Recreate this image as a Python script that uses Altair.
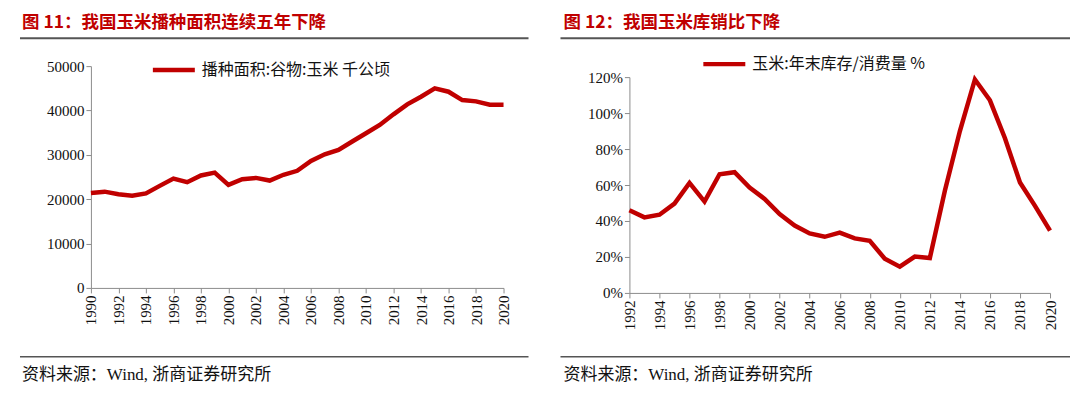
import altair as alt
import pandas as pd

# ---------------- data ----------------
years_left = list(range(1990, 2021))
area_k_ha = [21400, 21700, 21100, 20770, 21300, 23000, 24660, 23840, 25340, 26000,
             23240, 24500, 24800, 24200, 25500, 26400, 28640, 30130, 31110, 33000,
             34860, 36730, 39130, 41380, 43100, 44970, 44230, 42350, 42050, 41300, 41300]

years_right = list(range(1992, 2021))
stock_ratio_pct = [46.0, 42.0, 43.5, 49.7, 61.2, 50.8, 66.0, 67.1, 58.6, 52.3,
                   43.8, 37.5, 33.1, 31.2, 33.5, 30.3, 29.0, 19.0, 14.6, 20.2,
                   19.4, 56.8, 90.0, 118.7, 107.1, 86.0, 61.4, 48.4, 34.6]

left_ticks = list(range(1990, 2021, 2))
right_ticks = list(range(1992, 2021, 2))
left_y_ticks = [0, 10000, 20000, 30000, 40000, 50000]
right_y_ticks = [0, 20, 40, 60, 80, 100, 120]

title_left = "图 11：我国玉米播种面积连续五年下降"
title_right = "图 12：我国玉米库销比下降"
legend_left = "播种面积:谷物:玉米 千公顷"
legend_right = "玉米:年末库存/消费量 %"
source_text = "资料来源：Wind, 浙商证券研究所"

RED = "#C00000"
AXIS_GREY = "#8c8c8c"
RULE_GREY = "#555555"
SERIF = "Liberation Serif, Noto Sans CJK SC"
CJK = "Noto Sans CJK SC"

df_left = pd.DataFrame({"year": years_left, "value": area_k_ha})
df_right = pd.DataFrame({"year": years_right, "value": stock_ratio_pct})
dummy = pd.DataFrame({"a": [0]})


def axis(values, orient, **kw):
    return alt.Axis(values=values, orient=orient, grid=False, title=None,
                    domainColor=AXIS_GREY, tickColor=AXIS_GREY, tickSize=5,
                    labelFont=SERIF, labelFontSize=15, labelColor="#111111",
                    **kw)


def decorations(title, legend, leg_x, leg_y, title_dx, title_dy, rule_top,
                rule_bottom, rule_x1, rule_x2):
    title_t = alt.Chart(dummy).mark_text(
        align="left", baseline="middle", font=CJK, fontSize=17.5,
        fontWeight="bold", color=RED, text=title
    ).encode(x=alt.value(title_dx), y=alt.value(title_dy))
    rule_t = alt.Chart(dummy).mark_rule(color=RULE_GREY, strokeWidth=2).encode(
        x=alt.value(rule_x1), x2=alt.value(rule_x2), y=alt.value(rule_top))
    rule_b = alt.Chart(dummy).mark_rule(color=RULE_GREY, strokeWidth=1.5).encode(
        x=alt.value(rule_x1), x2=alt.value(rule_x2), y=alt.value(rule_bottom))
    src = alt.Chart(dummy).mark_text(
        align="left", baseline="middle", font=SERIF, fontSize=17,
        color="#111111", text=source_text
    ).encode(x=alt.value(title_dx), y=alt.value(rule_bottom + 18))
    leg_line = alt.Chart(dummy).mark_rule(color=RED, strokeWidth=4.5).encode(
        x=alt.value(leg_x), x2=alt.value(leg_x + 42), y=alt.value(leg_y))
    leg_text = alt.Chart(dummy).mark_text(
        align="left", baseline="middle", font=CJK, fontSize=16,
        color="#111111", text=legend
    ).encode(x=alt.value(leg_x + 49), y=alt.value(leg_y))
    return [title_t, rule_t, rule_b, src, leg_line, leg_text]


left_line = alt.Chart(df_left).mark_line(color=RED, strokeWidth=4.5).encode(
    x=alt.X("year:Q", scale=alt.Scale(domain=[1990, 2020], nice=False, zero=False),
            axis=axis(left_ticks, "bottom", format="d", labelAngle=270,
                      labelAlign="right", labelBaseline="middle")),
    y=alt.Y("value:Q", scale=alt.Scale(domain=[0, 50000], nice=False),
            axis=axis(left_y_ticks, "left", format="d")),
)

left = alt.layer(
    left_line,
    *decorations(title_left, legend_left, 62, 4, -69, -43, -28, 291, -71, 438)
).properties(width=413, height=222)

right_line = alt.Chart(df_right).mark_line(color=RED, strokeWidth=4.5).encode(
    x=alt.X("year:Q", scale=alt.Scale(domain=[1992, 2020], nice=False, zero=False),
            axis=axis(right_ticks, "bottom", format="d", labelAngle=270,
                      labelAlign="right", labelBaseline="middle")),
    y=alt.Y("value:Q", scale=alt.Scale(domain=[0, 120], nice=False, range=[227, 11]),
            axis=axis(right_y_ticks, "left", labelExpr="datum.value + '%'")),
)

right = alt.layer(
    right_line,
    *decorations(title_right, legend_right, 74, -2, -66, -43, -28, 291, -69, 441)
).properties(width=421, height=227)

chart = alt.hconcat(left, right, spacing=28).properties(
    padding={"left": 10, "top": 5, "right": 0, "bottom": 0}
).configure_view(stroke="transparent")

chart.save("out.html", embed_options={"renderer": "svg", "actions": False})
